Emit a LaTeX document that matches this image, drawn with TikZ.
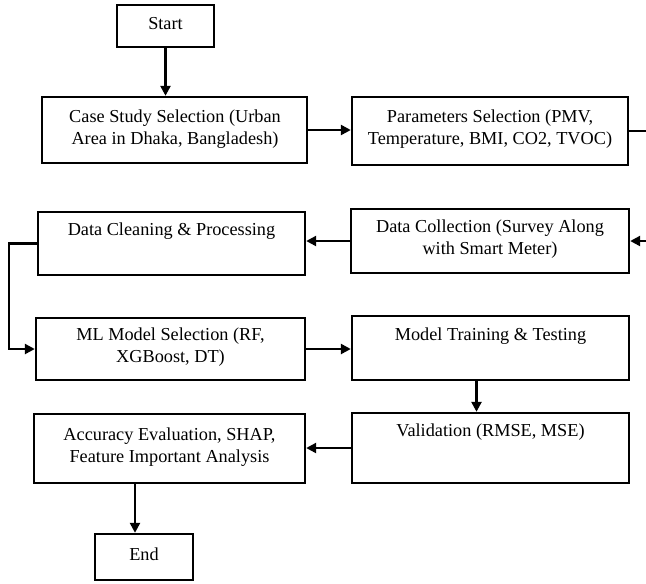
\documentclass[tikz,border=0pt]{standalone}
\usepackage{fontspec}
\setmainfont{Liberation Serif}
\usetikzlibrary{arrows.meta}
\tikzstyle{box}=[draw, rectangle, line width=1.8pt, inner sep=0pt]
\tikzstyle{txt}=[align=center, inner sep=0pt, font=\fontsize{13.7}{16.5}\selectfont]
\tikzstyle{flow}=[line width=1.8pt, -{Triangle[length=7.5pt, width=7.5pt]}]

\begin{document}
\begin{tikzpicture}[x=0.75pt, y=-0.75pt]
				
				\useasboundingbox (0,0) rectangle (646,583);
				
				\node (start) [box, minimum width=72.75pt, minimum height=31.5pt] at (165.5,26) {};
				\node (startt) [txt] at (165.5,24) {Start};
				%
				\node (case) [box, minimum width=198.75pt, minimum height=49.5pt] at (174.5,130) {};
				\node (caset) [txt] at (175,129) {Case Study Selection (Urban\\Area in Dhaka, Bangladesh)};
				\node (params) [box, minimum width=207pt, minimum height=51pt] at (490,131) {};
				\node (paramst) [txt] at (490,129) {Parameters Selection (PMV,\\Temperature, BMI, CO2, TVOC)};
				%
				\node (clean) [box, minimum width=200.25pt, minimum height=47.25pt] at (171.5,243.5) {};
				\node (cleant) [txt] at (171.5,231) {Data Cleaning \& Processing};
				\node (collect) [box, minimum width=208.5pt, minimum height=48pt] at (490,241) {};
				\node (collectt) [txt] at (490,239.5) {Data Collection (Survey Along\\with Smart Meter)};
				%
				\node (ml) [box, minimum width=201.75pt, minimum height=46.5pt] at (170.5,349) {};
				\node (mlt) [txt] at (170.5,347) {ML Model Selection (RF,\\XGBoost, DT)};
				\node (train) [box, minimum width=207.75pt, minimum height=48pt] at (490.5,348) {};
				\node (traint) [txt] at (490.5,336) {Model Training \& Testing};
				%
				\node (valid) [box, minimum width=207.75pt, minimum height=52.5pt] at (490.5,448) {};
				\node (validt) [txt] at (490.5,432) {Validation (RMSE, MSE)};
				\node (acc) [box, minimum width=203.25pt, minimum height=51.75pt] at (169.5,448.5) {};
				\node (acct) [txt] at (169.5,447) {Accuracy Evaluation, SHAP,\\Feature Important Analysis};
				%
				\node (end) [box, minimum width=73.5pt, minimum height=34.5pt] at (144,557) {};
				\node (endt) [txt] at (144,554) {End};
				
				\coordinate (bend) at (690,131);
				
				\draw [flow] (start.south) -- (start.south |- case.north);
				\draw [flow] (case.east) -- (params.west |- case.east);
				\draw [flow] (params.east) -- (bend) |- (collect.east);
				\draw [flow] (collect.west) -- (clean.east |- collect.west);
				\draw [flow] (clean.west) -- ++(-28,0) |- (ml.west);
				\draw [flow] (ml.east) -- (train.west |- ml.east);
				\draw [flow] ([xshift=-10.5pt]train.south) -- ([xshift=-10.5pt]valid.north);
				\draw [flow] (valid.west) -- (acc.east |- valid.west);
				\draw [flow] ([xshift=-6.75pt]end.north |- acc.south) -- ([xshift=-6.75pt]end.north);
				\end{tikzpicture}
\end{document}
